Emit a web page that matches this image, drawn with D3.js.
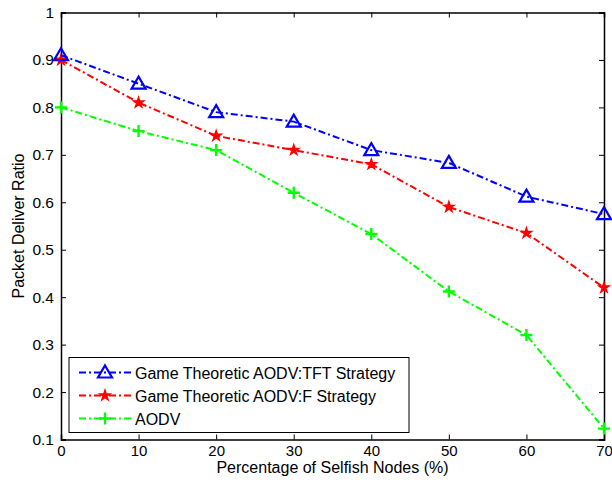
<!DOCTYPE html>
<html>
<head>
<meta charset="utf-8">
<script src="https://cdn.jsdelivr.net/npm/d3@7"></script>
<style>
body { margin: 0; background: #fff; }
text { font-family: "Liberation Sans", Arial, sans-serif; }
</style>
</head>
<body>
<div id="chart"></div>
<script>
var svgWidth = 612;
var svgHeight = 487;

var margin = { top: 12.5, right: 8, bottom: 47.5, left: 61 };
var width = svgWidth - margin.left - margin.right;
var height = svgHeight - margin.top - margin.bottom;

// data
var selfish = [0, 10, 20, 30, 40, 50, 60, 70];
var tftValues = [0.91, 0.85, 0.79, 0.77, 0.71, 0.683, 0.612, 0.575];
var fValues = [0.90, 0.81, 0.74, 0.71, 0.68, 0.59, 0.535, 0.42];
var aodvValues = [0.80, 0.75, 0.71, 0.62, 0.533, 0.412, 0.32, 0.123];
var seriesNames = ["Game Theoretic AODV:TFT Strategy", "Game Theoretic AODV:F Strategy", "AODV"];
var xTicks = [0, 10, 20, 30, 40, 50, 60, 70];
var yTicks = [0.1, 0.2, 0.3, 0.4, 0.5, 0.6, 0.7, 0.8, 0.9, 1];

var series = [
    { name: seriesNames[0], values: tftValues, color: "#0000ff", marker: "triangle" },
    { name: seriesNames[1], values: fValues, color: "#ff0000", marker: "star" },
    { name: seriesNames[2], values: aodvValues, color: "#00ff00", marker: "plus" }
];

var svg = d3.select("#chart")
    .append("svg")
    .attr("width", svgWidth)
    .attr("height", svgHeight);

var chartGroup = svg.append("g")
    .attr("transform", `translate(${margin.left}, ${margin.top})`);

var xScale = d3.scaleLinear().domain([0, 70]).range([0, width]);
var yScale = d3.scaleLinear().domain([0.1, 1]).range([height, 0]);

// axes, matlab style: ticks inside, box all round
var bottomAxis = d3.axisBottom(xScale).tickValues(xTicks).tickSize(-5).tickPadding(6).tickFormat(d3.format("d"));
var leftAxis = d3.axisLeft(yScale).tickValues(yTicks).tickSize(-5).tickPadding(7).tickFormat(d => d === 1 ? "1" : d3.format(".1f")(d));
var topAxis = d3.axisTop(xScale).tickValues(xTicks).tickSize(-5).tickFormat("");
var rightAxis = d3.axisRight(yScale).tickValues(yTicks).tickSize(-5).tickFormat("");

var xAxis = chartGroup.append("g").attr("transform", `translate(0, ${height})`).call(bottomAxis);
var yAxis = chartGroup.append("g").call(leftAxis);
chartGroup.append("g").call(topAxis);
chartGroup.append("g").attr("transform", `translate(${width}, 0)`).call(rightAxis);

chartGroup.selectAll(".domain").attr("stroke", "#000").attr("stroke-width", 1.5);
chartGroup.selectAll(".tick line").attr("stroke", "#000").attr("stroke-width", 1);
xAxis.selectAll(".tick text").attr("font-size", 15).attr("fill", "#000");
yAxis.selectAll(".tick text").attr("font-size", 15.5).attr("fill", "#000");

// lines
var line = d3.line()
    .x((d, i) => xScale(selfish[i]))
    .y(d => yScale(d));

var dash = "7,3,2,3";

function drawMarker(g, type, color) {
    if (type === "triangle") {
        g.append("path")
            .attr("d", "M0,-7L7,5L-7,5Z")
            .attr("fill", "none")
            .attr("stroke", color)
            .attr("stroke-width", 2.2);
    } else if (type === "star") {
        g.append("path")
            .attr("d", d3.symbol(d3.symbolStar, 22)())
            .attr("fill", color)
            .attr("stroke", color)
            .attr("stroke-width", 2);
    } else {
        g.append("path")
            .attr("d", "M-6,0H6M0,-6V6")
            .attr("stroke", color)
            .attr("stroke-width", 2.4);
    }
}

series.slice().reverse().forEach(function(s) {
    chartGroup.append("path")
        .datum(s.values)
        .attr("d", line)
        .attr("fill", "none")
        .attr("stroke", s.color)
        .attr("stroke-width", 2)
        .attr("stroke-dasharray", dash);

    s.values.forEach(function(v, i) {
        var g = chartGroup.append("g")
            .attr("transform", `translate(${xScale(selfish[i])}, ${yScale(v)})`);
        drawMarker(g, s.marker, s.color);
    });
});

// legend
var legend = chartGroup.append("g")
    .attr("transform", `translate(8, ${yScale(0.1) - 82})`);

legend.append("rect")
    .attr("width", 340)
    .attr("height", 75)
    .attr("fill", "#fff")
    .attr("stroke", "#000")
    .attr("stroke-width", 1);

series.forEach(function(s, i) {
    var yPos = 15 + i * 23;
    legend.append("line")
        .attr("x1", 10).attr("x2", 62)
        .attr("y1", yPos).attr("y2", yPos)
        .attr("stroke", s.color)
        .attr("stroke-width", 2)
        .attr("stroke-dasharray", dash);
    var g = legend.append("g").attr("transform", `translate(36, ${yPos})`);
    drawMarker(g, s.marker, s.color);
    legend.append("text")
        .attr("x", 66)
        .attr("y", yPos + 6)
        .attr("font-size", 16)
        .text(s.name);
});

// axis labels
chartGroup.append("text")
    .attr("x", width / 2)
    .attr("y", height + 33)
    .attr("text-anchor", "middle")
    .attr("font-size", 16)
    .text("Percentage of Selfish Nodes (%)");

chartGroup.append("text")
    .attr("transform", "rotate(-90)")
    .attr("x", -height / 2)
    .attr("y", -37)
    .attr("text-anchor", "middle")
    .attr("font-size", 16)
    .text("Packet Deliver Ratio");
</script>
</body>
</html>
